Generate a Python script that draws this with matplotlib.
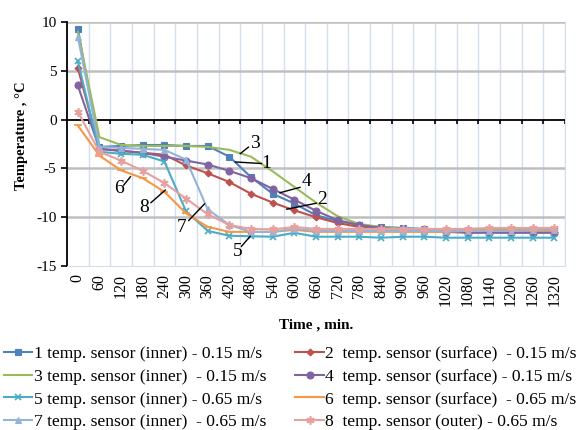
import matplotlib
matplotlib.use('Agg')
import matplotlib.pyplot as plt

plt.rcParams['font.family'] = ['Liberation Serif', 'DejaVu Serif']
plt.rcParams['axes.unicode_minus'] = False

# time axis (category axis, minutes)
times = list(range(0, 1321, 60))

s1 = [9.3, -2.8, -2.7, -2.6, -2.6, -2.7, -2.7, -3.8, -5.9, -7.6, -8.6, -9.8, -10.4, -10.8, -11.0,
      -11.1, -11.2, -11.3, -11.3, -11.3, -11.3, -11.3, -11.3]
s2 = [5.3, -3.0, -3.2, -3.4, -3.6, -4.7, -5.5, -6.4, -7.6, -8.5, -9.3, -10.0, -10.6, -11.0, -11.2,
      -11.3, -11.4, -11.4, -11.5, -11.5, -11.5, -11.5, -11.5]
s3 = [9.0, -1.8, -2.6, -2.7, -2.7, -2.7, -2.8, -3.1, -3.8, -5.3, -6.9, -8.5, -9.9, -10.7, -11.0,
      -11.2, -11.3, -11.3, -11.3, -11.3, -11.3, -11.3, -11.3]
s4 = [3.5, -3.0, -3.2, -3.4, -3.8, -4.2, -4.6, -5.25, -6.0, -7.1, -8.2, -9.35, -10.3, -10.8, -11.1,
      -11.3, -11.4, -11.5, -11.6, -11.6, -11.6, -11.6, -11.6]
s5 = [6.0, -3.3, -3.5, -3.6, -4.3, -9.4, -11.4, -11.9, -11.95, -12.0, -11.6, -12.0, -12.0, -12.0, -12.1,
      -12.0, -12.0, -12.1, -12.1, -12.1, -12.1, -12.1, -12.1]
s6 = [-0.6, -3.7, -5.2, -6.0, -7.4, -9.6, -11.0, -11.5, -11.5, -11.5, -11.3, -11.5, -11.5, -11.5, -11.5,
      -11.5, -11.5, -11.5, -11.4, -11.4, -11.4, -11.4, -11.4]
s7 = [8.5, -2.8, -2.9, -3.0, -3.1, -4.1, -9.2, -10.8, -11.5, -11.5, -11.2, -11.4, -11.4, -11.4, -11.4,
      -11.4, -11.4, -11.4, -11.4, -11.4, -11.4, -11.3, -11.3]
s8 = [0.8, -3.3, -4.2, -5.25, -6.5, -8.1, -9.7, -10.8, -11.2, -11.25, -11.0, -11.2, -11.2, -11.2, -11.2,
      -11.2, -11.2, -11.2, -11.2, -11.1, -11.1, -11.1, -11.1]

labels = [
    '1 temp. sensor (inner) - 0.15 m/s',
    '2  temp. sensor (surface)  - 0.15 m/s',
    '3 temp. sensor (inner)  - 0.15 m/s',
    '4  temp. sensor (surface) - 0.15 m/s',
    '5 temp. sensor (inner) - 0.65 m/s',
    '6  temp. sensor (surface)  - 0.65 m/s',
    '7 temp. sensor (inner)  - 0.65 m/s',
    '8  temp. sensor (outer) - 0.65 m/s',
]
series = [s1, s2, s3, s4, s5, s6, s7, s8]
colors = ['#4F81BD', '#C0504D', '#9BBB59', '#8064A2', '#4BACC6', '#F79646', '#95B3D7', '#E6A0A0']
markers = ['s', 'D', None, 'o', 'x', '_', '^', (6, 2, 0)]
msizes = [5, 3.5, 0, 5, 5, 6, 5, 6]

# curve labels: (text, text position, line start, line end) in (index, value)
callouts = [
    ('3', (8.16, -2.45), (7.88, -2.82), (7.50, -3.49)),
    ('1', (8.70, -4.47), (8.48, -4.50), (7.28, -4.34)),
    ('4', (10.55, -6.37), (10.26, -6.94), (9.34, -7.49)),
    ('2', (11.29, -8.16), (11.01, -8.57), (9.65, -9.18)),
    ('7', (4.78, -11.1), (5.12, -10.34), (5.85, -8.64)),
    ('5', (7.39, -13.49), (7.56, -12.98), (7.96, -11.96)),
    ('6', (1.89, -7.04), (2.12, -6.71), (2.43, -5.86)),
    ('8', (3.04, -8.97), (3.38, -8.51), (4.04, -7.22)),
]

fig = plt.figure(figsize=(5.82, 4.30), dpi=100)
ax = fig.add_axes([0.1151, 0.3814, 0.8557, 0.5674])

x = list(range(len(times)))
handles = []
for ys, c, m, ms, lab in zip(series, colors, markers, msizes, labels):
    h, = ax.plot(x, ys, color=c, lw=1.5, marker=m, markersize=ms,
                 markeredgewidth=1.2 if m in ('x', '_', (6, 2, 0)) else 0.8, label=lab, zorder=3)
    handles.append(h)

ax.set_xlim(-0.5, len(times) - 0.5)
ax.set_ylim(-15, 10)
ax.set_yticks([-15, -10, -5, 0, 5, 10])
ax.set_xticks(x)
ax.set_xticklabels([str(t) for t in times], rotation=90, fontsize=11.5)
ax.tick_params(axis='x', length=0, pad=6)
ax.tick_params(axis='y', length=4, width=1.2, labelsize=11, direction='out')

# gridlines
for yv in [-10, -5, 5, 10]:
    ax.axhline(yv, color='#BFBFBF', lw=1.8, zorder=1)
for i in range(len(times)):
    ax.axvline(i + 0.5, color='#D3DFEE', lw=1.0, zorder=0)

# horizontal axis crossing at 0 with category tick marks
ax.axhline(0, color='black', lw=1.3, zorder=2)
ax.vlines([i + 0.5 for i in range(len(times))], -0.5, 0, color='black', lw=1.2, zorder=2)

ax.spines['top'].set_visible(False)
ax.spines['left'].set_color('black')
ax.spines['left'].set_linewidth(1.3)
ax.spines['right'].set_color('#D3DFEE')
ax.spines['bottom'].set_color('#D3DFEE')

for txt, tpos, p0, p1 in callouts:
    ax.plot([p0[0], p1[0]], [p0[1], p1[1]], color='black', lw=1.0, zorder=4)
    ax.text(tpos[0], tpos[1], txt, fontsize=14, ha='center', va='center', zorder=4)

ax.set_ylabel('Temperature , °C', fontsize=10.5, fontweight='bold')
ax.yaxis.set_label_coords(-0.079, 0.535)
fig.text(316 / 582, 1 - 325 / 430, 'Time , min.', fontsize=11, fontweight='bold',
         ha='center', va='center')

order = [0, 2, 4, 6, 1, 3, 5, 7]
fig.legend([handles[i] for i in order], [labels[i] for i in order], ncol=2,
           loc='upper left', bbox_to_anchor=(0.0, 1 - 342 / 430), frameon=False,
           fontsize=12.6, handlelength=1.65, handletextpad=0.08, columnspacing=1.65,
           labelspacing=0.38, borderaxespad=0.0, borderpad=0.2)

fig.savefig('out.png', dpi=100)
